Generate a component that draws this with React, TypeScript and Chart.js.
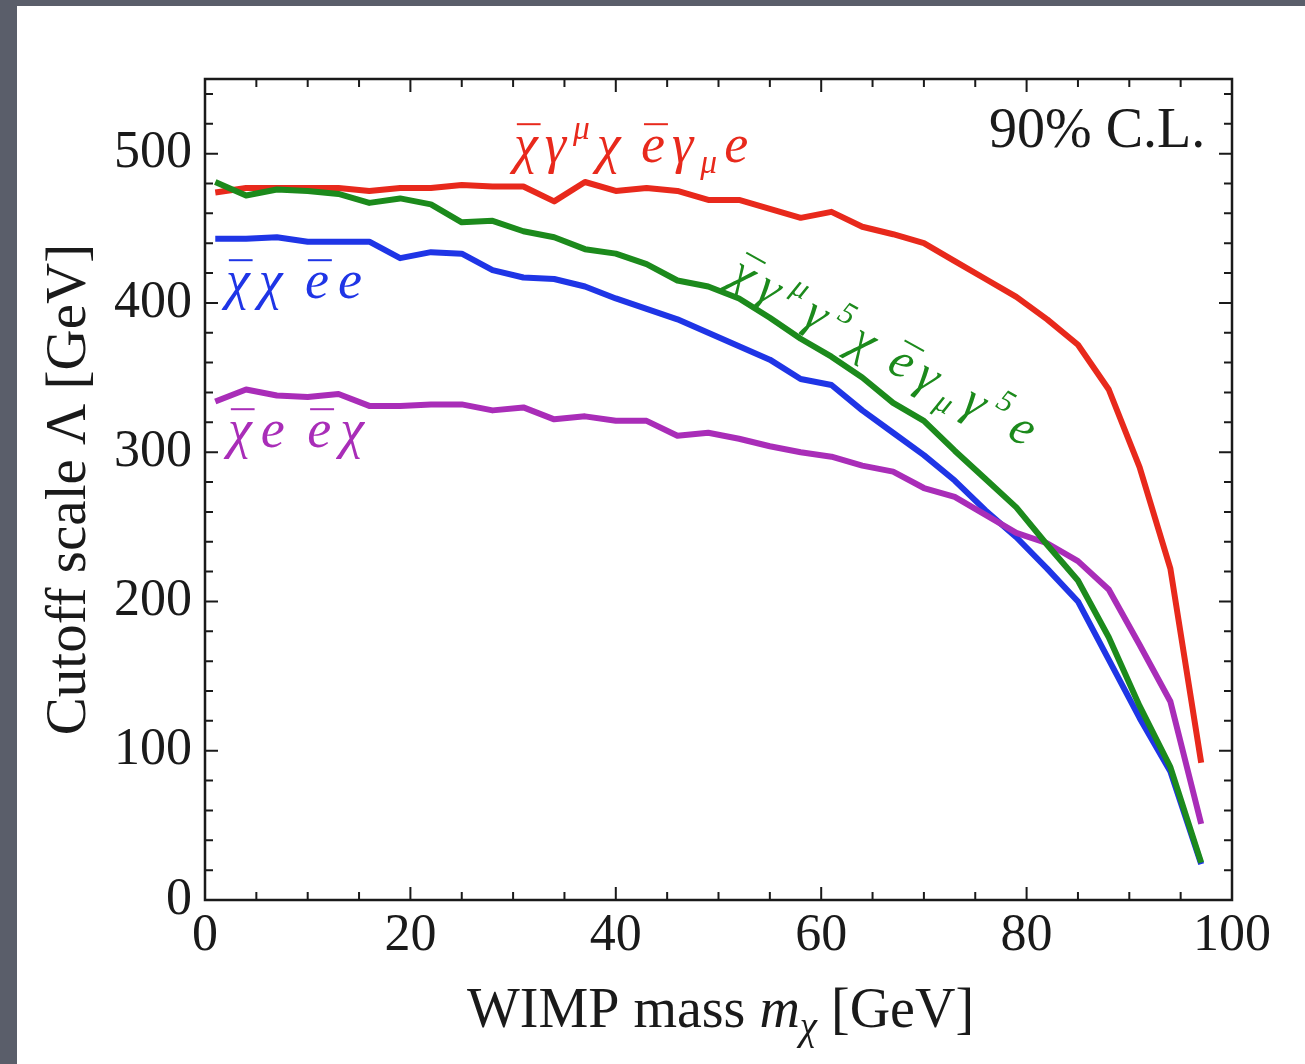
import { useEffect, useRef } from 'react';
import { Chart, registerables } from 'chart.js';

Chart.register(...registerables);

// WIMP mass m_chi [GeV]
const massGeV = [1, 4, 7, 10, 13, 16, 19, 22, 25, 28, 31, 34, 37, 40, 43, 46, 49, 52, 55, 58, 61, 64, 67, 70, 73, 76, 79, 82, 85, 88, 91, 94, 97];

// Cutoff scale Lambda [GeV] for each operator
const vectorOp = [474, 477, 477, 477, 477, 475, 477, 477, 479, 478, 478, 468, 481, 475, 477, 475, 469, 469, 463, 457, 461, 451, 446, 440, 428, 416, 404, 389, 372, 342, 290, 222, 92];
const axialOp = [481, 472, 476, 475, 473, 467, 470, 466, 454, 455, 448, 444, 436, 433, 426, 415, 411, 403, 390, 376, 364, 350, 333, 321, 301, 282, 263, 238, 214, 176, 130, 89, 25];
const scalarOp = [443, 443, 444, 441, 441, 441, 430, 434, 433, 422, 417, 416, 411, 403, 396, 389, 380, 371, 362, 349, 345, 328, 313, 298, 281, 261, 243, 222, 200, 161, 122, 86, 24];
const fierzOp = [334, 342, 338, 337, 339, 331, 331, 332, 332, 328, 330, 322, 324, 321, 321, 311, 313, 309, 304, 300, 297, 291, 287, 276, 270, 258, 246, 239, 227, 208, 171, 133, 51];

const xTickLabels = [0, 20, 40, 60, 80, 100];
const yTickLabels = [0, 100, 200, 300, 400, 500];

const RED = '#e8291c';
const GREEN = '#1c8a1c';
const BLUE = '#1f35e6';
const MAGENTA = '#a92db8';
const INK = '#1a1a1a';
const SERIF = '"Liberation Serif", "Times New Roman", serif';

type Seg = { t: string; k?: 'sup' | 'sub'; bar?: boolean };

function drawRich(
  ctx: CanvasRenderingContext2D,
  segs: Seg[],
  x: number,
  y: number,
  size: number,
  color: string,
  spacing: number,
  angle = 0
) {
  ctx.save();
  ctx.translate(x, y);
  ctx.rotate(angle);
  ctx.fillStyle = color;
  ctx.strokeStyle = color;
  ctx.textBaseline = 'alphabetic';
  ctx.textAlign = 'left';
  let cx = 0;
  for (const s of segs) {
    const fs = s.k ? size * 0.62 : size;
    ctx.font = `italic ${fs}px ${SERIF}`;
    const dy = s.k === 'sup' ? -size * 0.42 : s.k === 'sub' ? size * 0.2 : 0;
    ctx.fillText(s.t, cx, dy);
    const w = ctx.measureText(s.t).width;
    if (s.bar) {
      ctx.lineWidth = 2;
      ctx.beginPath();
      ctx.moveTo(cx + w * 0.12, -size * 0.7);
      ctx.lineTo(cx + w * 1.12, -size * 0.7);
      ctx.stroke();
    }
    cx += w + (s.t === ' ' ? 0 : spacing);
  }
  ctx.restore();
}

const decorPlugin = {
  id: 'decor',
  beforeDraw(chart: any) {
    const ctx = chart.ctx as CanvasRenderingContext2D;
    ctx.save();
    ctx.fillStyle = '#5a5e6a';
    ctx.fillRect(0, 0, chart.width, chart.height);
    ctx.fillStyle = '#ffffff';
    ctx.fillRect(17, 6, chart.width - 17, chart.height - 6);
    ctx.restore();
  },
  afterDraw(chart: any) {
    const ctx = chart.ctx as CanvasRenderingContext2D;
    const xs = chart.scales.x;
    const ys = chart.scales.y;
    const { left, right, top, bottom } = chart.chartArea;
    ctx.save();
    // inward tick marks on all four sides
    ctx.strokeStyle = INK;
    ctx.lineWidth = 2;
    ctx.beginPath();
    for (let v = 5; v < 100; v += 5) {
      const px = xs.getPixelForValue(v);
      const L = v % 20 === 0 ? 13 : 8;
      ctx.moveTo(px, bottom);
      ctx.lineTo(px, bottom - L);
      ctx.moveTo(px, top);
      ctx.lineTo(px, top + L);
    }
    for (let v = 20; v < 550; v += 20) {
      const py = ys.getPixelForValue(v);
      const L = v % 100 === 0 ? 13 : 8;
      ctx.moveTo(left, py);
      ctx.lineTo(left + L, py);
      ctx.moveTo(right, py);
      ctx.lineTo(right - L, py);
    }
    ctx.stroke();
    // frame
    ctx.lineWidth = 2.5;
    ctx.strokeRect(left, top, right - left, bottom - top);

    // 90% C.L.
    ctx.fillStyle = INK;
    ctx.font = `56px ${SERIF}`;
    ctx.textAlign = 'left';
    ctx.textBaseline = 'alphabetic';
    ctx.fillText('90% C.L.', 989, 147);

    // x axis title with italic m and subscript chi
    const size = 56;
    const parts: { t: string; f: string; dy: number }[] = [
      { t: 'WIMP mass ', f: `${size}px ${SERIF}`, dy: 0 },
      { t: 'm', f: `italic ${size}px ${SERIF}`, dy: 0 },
      { t: 'χ', f: `italic ${Math.round(size * 0.7)}px ${SERIF}`, dy: size * 0.22 },
      { t: ' [GeV]', f: `${size}px ${SERIF}`, dy: 0 },
    ];
    let total = 0;
    for (const p of parts) {
      ctx.font = p.f;
      total += ctx.measureText(p.t).width;
    }
    let cx = (left + right) / 2 + 2 - total / 2;
    for (const p of parts) {
      ctx.font = p.f;
      ctx.fillText(p.t, cx, 1027 + p.dy);
      cx += ctx.measureText(p.t).width;
    }

    // curve labels
    drawRich(
      ctx,
      [{ t: 'χ', bar: true }, { t: 'γ' }, { t: 'μ', k: 'sup' }, { t: 'χ' }, { t: ' ' }, { t: 'e', bar: true }, { t: 'γ' }, { t: 'μ', k: 'sub' }, { t: 'e' }],
      514, 162, 54, RED, 7
    );
    drawRich(ctx, [{ t: 'χ', bar: true }, { t: 'χ' }, { t: ' ' }, { t: 'e', bar: true }, { t: 'e' }], 226, 298, 54, BLUE, 9);
    drawRich(ctx, [{ t: 'χ', bar: true }, { t: 'e' }, { t: ' ' }, { t: 'e', bar: true }, { t: 'χ' }], 228, 447, 54, MAGENTA, 9);
    drawRich(
      ctx,
      [
        { t: 'χ', bar: true }, { t: 'γ' }, { t: 'μ', k: 'sup' }, { t: 'γ' }, { t: '5', k: 'sup' }, { t: 'χ' }, { t: ' ' },
        { t: 'e', bar: true }, { t: 'γ' }, { t: 'μ', k: 'sub' }, { t: 'γ' }, { t: '5', k: 'sup' }, { t: 'e' },
      ],
      727, 282, 50, GREEN, 9, (29 * Math.PI) / 180
    );
    ctx.restore();
  },
};

function series(values: number[]) {
  return massGeV.map((m, i) => ({ x: m, y: values[i] }));
}

export default function App() {
  const ref = useRef<HTMLCanvasElement>(null);
  useEffect(() => {
    document.body.style.margin = '0';
    const line = (label: string, values: number[], color: string, order: number) => ({
      label,
      data: series(values),
      borderColor: color,
      backgroundColor: color,
      borderWidth: 6,
      pointRadius: 0,
      tension: 0,
      fill: false,
      order,
      borderJoinStyle: 'round' as const,
    });
    const chart = new Chart(ref.current!, {
      type: 'line',
      data: {
        datasets: [
          line('χ̄γ^μχ ēγ_μe', vectorOp, RED, 3),
          line('χ̄χ ēe', scalarOp, BLUE, 2),
          line('χ̄e ēχ', fierzOp, MAGENTA, 1),
          line('χ̄γ^μγ^5χ ēγ_μγ^5e', axialOp, GREEN, 0),
        ],
      },
      options: {
        responsive: false,
        animation: false,
        devicePixelRatio: 1,
        layout: { padding: { left: 0, top: 79, right: 73, bottom: 0 } },
        plugins: { legend: { display: false }, tooltip: { enabled: false } },
        scales: {
          x: {
            type: 'linear',
            min: 0,
            max: 100,
            afterBuildTicks: (s: any) => {
              s.ticks = xTickLabels.map((v) => ({ value: v }));
            },
            afterFit: (s: any) => {
              s.height = 164;
              s.paddingLeft = 0;
              s.paddingRight = 0;
            },
            ticks: { color: INK, font: { family: SERIF, size: 52 }, padding: 5, maxRotation: 0, autoSkip: false },
            grid: { display: false, drawTicks: false },
            border: { display: false },
          },
          y: {
            type: 'linear',
            min: 0,
            max: 550,
            afterBuildTicks: (s: any) => {
              s.ticks = yTickLabels.map((v) => ({ value: v }));
            },
            afterFit: (s: any) => {
              s.width = 205;
              s.paddingTop = 0;
              s.paddingBottom = 0;
            },
            ticks: { color: INK, font: { family: SERIF, size: 52 }, padding: 13, autoSkip: false },
            grid: { display: false, drawTicks: false },
            border: { display: false },
            title: {
              display: true,
              text: 'Cutoff scale Λ [GeV]',
              color: INK,
              font: { family: SERIF, size: 57 },
              padding: { top: 36, bottom: 0 },
            },
          },
        },
      },
      plugins: [decorPlugin],
    } as any);
    return () => chart.destroy();
  }, []);
  return (
    <div style={{ position: 'relative', width: 1305, height: 1064 }}>
      <canvas ref={ref} width={1305} height={1064} style={{ width: 1305, height: 1064, display: 'block' }} />
    </div>
  );
}
